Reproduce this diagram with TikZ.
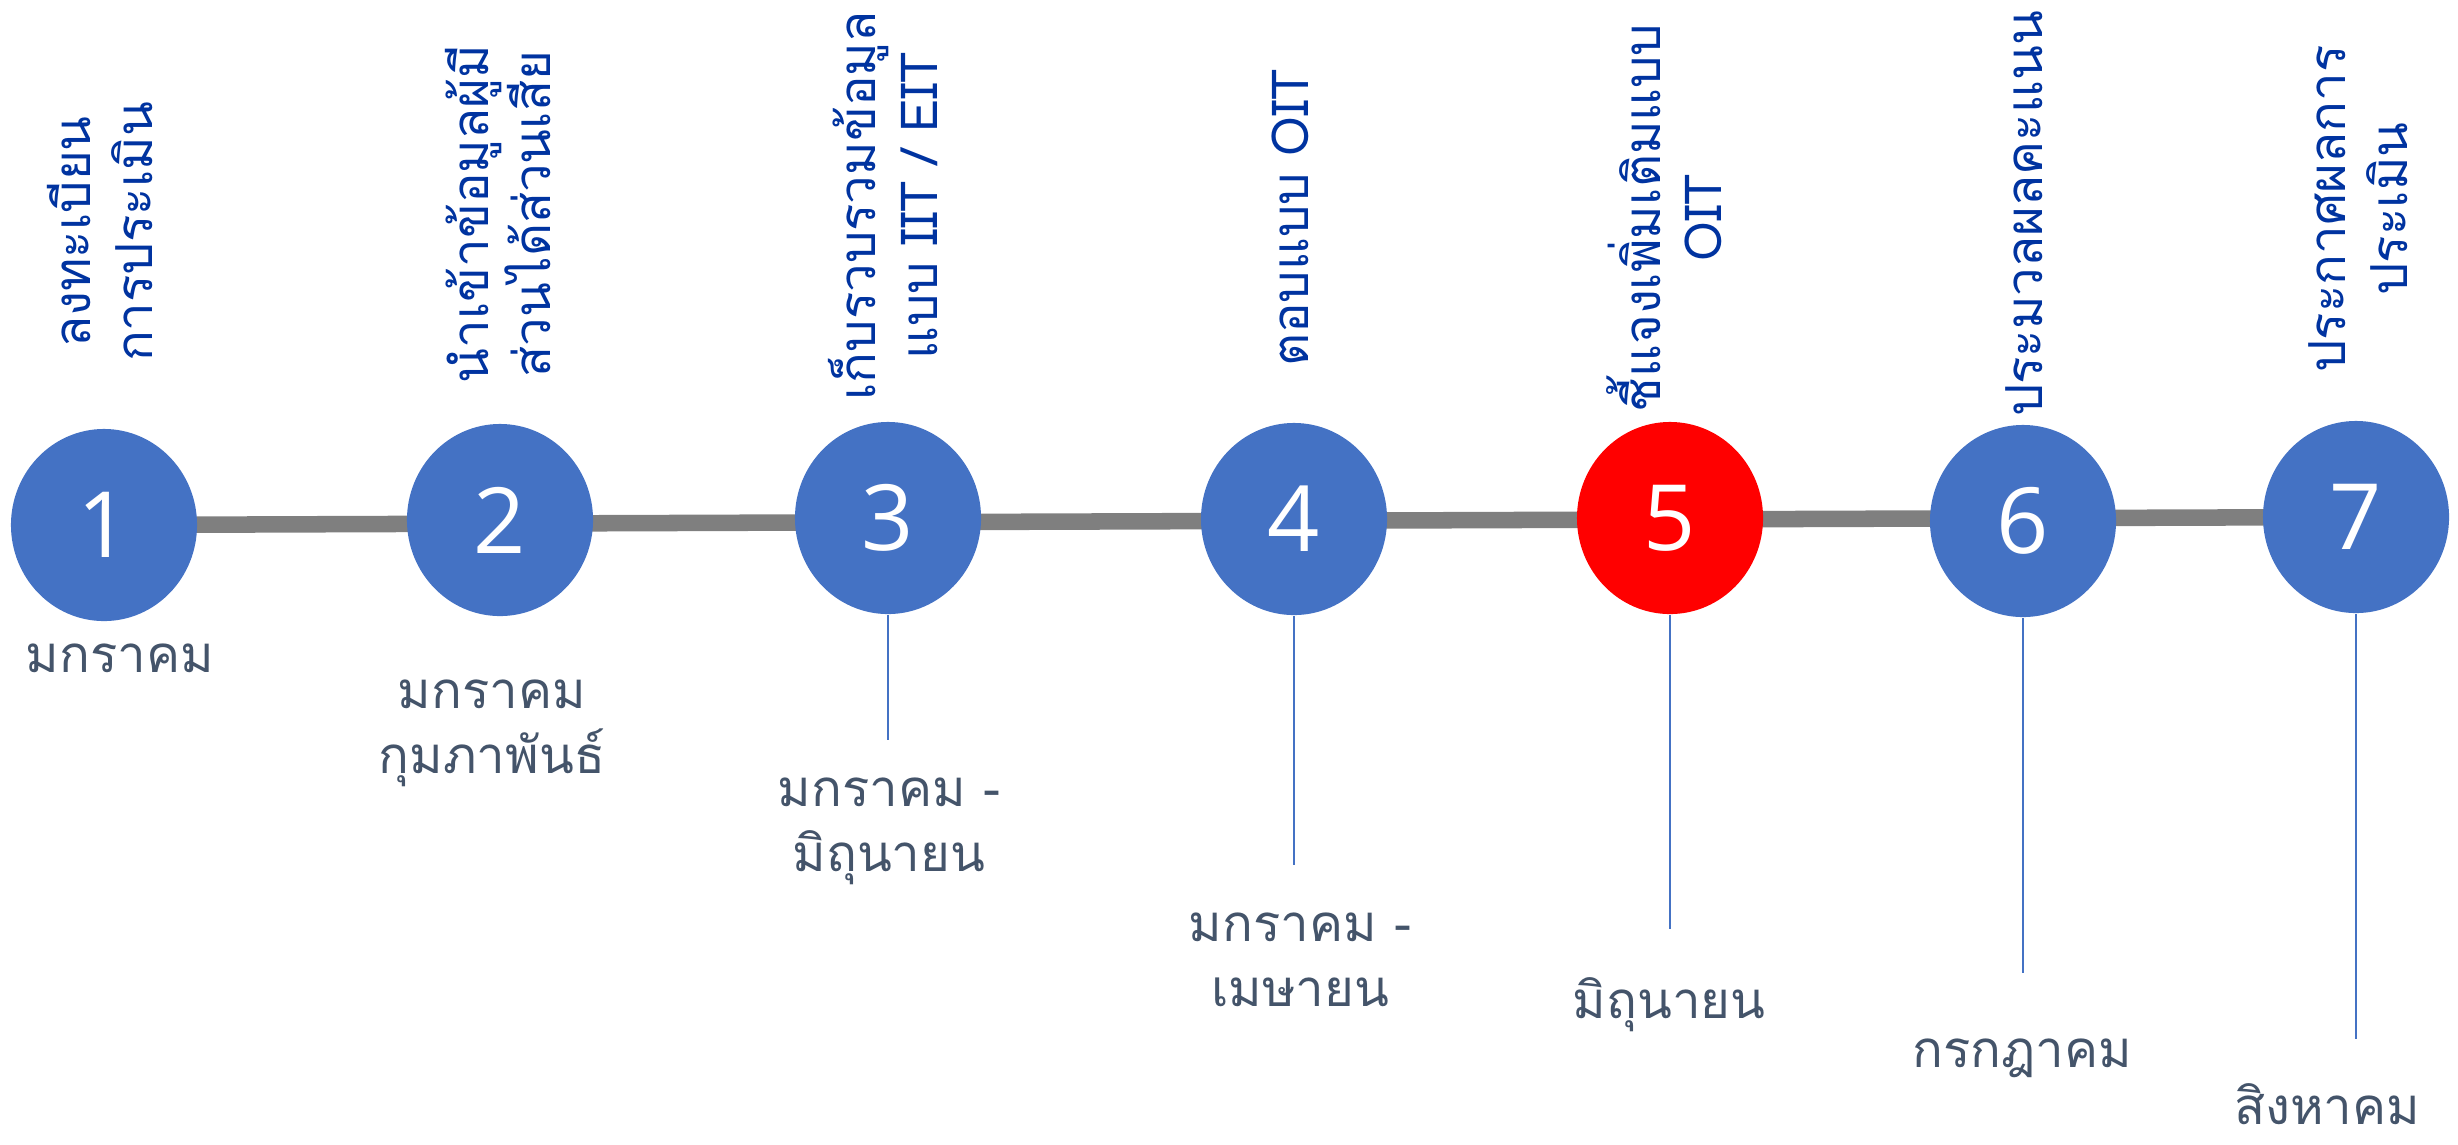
\documentclass[tikz,border=0pt]{standalone}
\usepackage{fontspec}
\usetikzlibrary{shapes.geometric,backgrounds}
\newfontfamily\thaifont[Script=Thai]{Loma}
\newfontfamily\numfont{Open Sans}
\definecolor{stepblue}{HTML}{4472C4}
\definecolor{headblue}{HTML}{0033A0}
\definecolor{monthgray}{HTML}{44546A}
\definecolor{linegray}{HTML}{7F7F7F}

\begin{document}
\begin{tikzpicture}[x=0.01cm,y=-0.01cm,
  stepdot/.style={ellipse,fill=stepblue,minimum width=1.86cm,minimum height=1.92cm,
    inner sep=0pt,text=white,font=\numfont\fontsize{26}{30}\selectfont},
  phase/.style={rotate=90,align=center,text=headblue,inner sep=0pt,
    font=\thaifont\fontsize{14.5}{17.5}\selectfont},
  month/.style={align=center,text=monthgray,inner sep=0pt,
    font=\thaifont\fontsize{14.5}{18.5}\selectfont},
  stem/.style={stepblue,line width=0.6pt}]
  \useasboundingbox (0,0) rectangle (2458,1144);

  \node[stepdot] (c1) at (104,525) {1};
  \node[stepdot] (c2) at (500,520) {2};
  \node[stepdot] (c3) at (888,518) {3};
  \node[stepdot] (c4) at (1294,519) {4};
  \node[stepdot,fill=red] (c5) at (1670,518) {5};
  \node[stepdot] (c6) at (2023,521) {6};
  \node[stepdot] (c7) at (2356,517) {7};
  \begin{scope}[on background layer]
    \draw[linegray,line width=4.7pt] (c1.center) -- (c7.center);
  \end{scope}

  \node[phase] (p1) at (100,232) {ลงทะเบียน\\การประเมิน};
  \node[phase] (p2) at (498,214) {นำเข้าข้อมูลผู้มี\\ส่วนได้ส่วนเสีย};
  \node[phase] (p3) at (883,206) {เก็บรวบรวมข้อมูล\\แบบ IIT / EIT};
  \node[phase] (p4) at (1290,218) {ตอบแบบ OIT};
  \node[phase] (p5) at (1664,218) {ชี้แจงเพิ่มเติมแบบ\\OIT};
  \node[phase] (p6) at (2024,214) {ประมวลผลคะแนน};
  \node[phase] (p7) at (2358,209) {ประกาศผลการ\\ประเมิน};

  \coordinate (e3) at (888,740);
  \coordinate (e4) at (1294,865);
  \coordinate (e5) at (1670,929);
  \coordinate (e6) at (2023,973);
  \coordinate (e7) at (2356,1039);
  \foreach \i in {3,...,7}
    \draw[stem] (c\i) -- (e\i);

  \node[month] (m1) at (120,658) {มกราคม};
  \node[month] (m2) at (492,733) {มกราคม\\กุมภาพันธ์};
  \node[month] (m3) at (889,831) {มกราคม -\\มิถุนายน};
  \node[month] (m4) at (1300,960) {มกราคม -\\เมษายน};
  \node[month] (m5) at (1669,1005) {มิถุนายน};
  \node[month] (m6) at (2022,1058) {กรกฎาคม};
  \node[month] (m7) at (2327,1104) {สิงหาคม};
\end{tikzpicture}
\end{document}
